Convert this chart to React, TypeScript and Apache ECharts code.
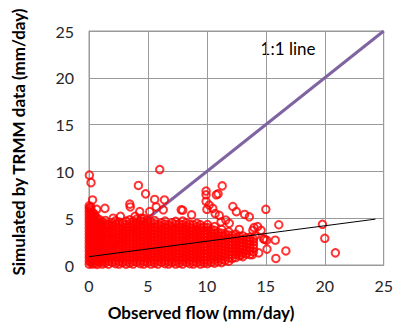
import React, { useEffect, useRef } from "react";
import * as echarts from "echarts";

// Dense core of the scatter: observed-flow columns and the simulated values in each
const coreObs = [0.02, 0.15, 0.3, 0.48, 0.68, 0.9, 1.12, 1.38, 1.65, 1.95, 2.25, 2.55, 2.85, 3.15, 3.45, 3.75, 4.05, 4.35, 4.65, 4.95, 5.25, 5.55, 5.85, 6.15, 6.45, 6.75, 7.05, 7.35, 7.65, 7.95, 8.25, 8.55, 8.85, 9.15, 9.45, 9.75, 10.05, 10.35, 10.65, 10.95, 11.25, 11.55, 11.85, 12.15, 12.45, 12.75, 13.05, 13.35, 13.65, 13.95];
const coreSim: number[][] = [
  [0.08, 0.42, 0.8, 1.12, 1.5, 1.86, 2.2, 2.57, 2.93, 3.28, 3.62, 3.97, 4.33, 4.68, 5.02, 5.38, 5.72, 6.05, 6.32],
  [0.24, 0.6, 0.97, 1.31, 1.66, 2.02, 2.38, 2.71, 3.07, 3.43, 3.78, 4.12, 4.47, 4.83, 5.18, 5.52, 5.88, 6.2],
  [0.1, 0.44, 0.76, 1.13, 1.47, 1.8, 2.17, 2.52, 2.86, 3.22, 3.55, 3.92, 4.26, 4.61, 4.96, 5.3, 5.62],
  [0.2, 0.57, 0.9, 1.27, 1.61, 1.97, 2.31, 2.66, 3.02, 3.36, 3.71, 4.06, 4.4, 4.77, 5.12, 5.42],
  [0.07, 0.45, 0.82, 1.16, 1.52, 1.84, 2.22, 2.56, 2.91, 3.26, 3.6, 3.96, 4.31, 4.66, 5.0],
  [0.26, 0.61, 0.96, 1.32, 1.67, 2.01, 2.36, 2.72, 3.06, 3.42, 3.76, 4.1, 4.46, 4.82],
  [0.1, 0.47, 0.8, 1.15, 1.52, 1.86, 2.21, 2.55, 2.92, 3.25, 3.61, 3.95, 4.31, 4.62],
  [0.21, 0.55, 0.92, 1.26, 1.6, 1.96, 2.32, 2.66, 3.01, 3.36, 3.7, 4.06, 4.41, 4.76],
  [0.08, 0.44, 0.81, 1.14, 1.51, 1.85, 2.2, 2.56, 2.9, 3.26, 3.6, 3.96, 4.3],
  [0.3, 0.64, 1.01, 1.35, 1.7, 2.06, 2.41, 2.76, 3.1, 3.46, 3.8, 4.16, 4.52],
  [0.14, 0.5, 0.86, 1.2, 1.56, 1.9, 2.26, 2.6, 2.96, 3.3, 3.66, 4.01, 4.36, 4.71],
  [0.1, 0.41, 0.76, 1.11, 1.45, 1.81, 2.16, 2.5, 2.86, 3.21, 3.55, 3.91, 4.26, 4.6],
  [0.25, 0.6, 0.96, 1.3, 1.66, 2.0, 2.36, 2.71, 3.05, 3.41, 3.76, 4.1, 4.46],
  [0.09, 0.45, 0.8, 1.16, 1.5, 1.86, 2.2, 2.56, 2.9, 3.25, 3.61, 3.96, 4.3, 4.7],
  [0.2, 0.56, 0.9, 1.26, 1.6, 1.96, 2.3, 2.66, 3.0, 3.36, 3.71, 4.05, 4.41, 4.82],
  [0.1, 0.46, 0.81, 1.15, 1.5, 1.85, 2.21, 2.55, 2.91, 3.26, 3.6, 3.95, 4.31, 4.66],
  [0.3, 0.66, 1.0, 1.36, 1.71, 2.05, 2.4, 2.76, 3.11, 3.45, 3.8, 4.16, 4.51, 4.9],
  [0.15, 0.5, 0.86, 1.21, 1.55, 1.9, 2.26, 2.61, 2.95, 3.3, 3.65, 4.0, 4.36, 4.72],
  [0.1, 0.4, 0.75, 1.1, 1.46, 1.81, 2.15, 2.5, 2.86, 3.2, 3.56, 3.91, 4.25, 4.61, 4.96],
  [0.25, 0.61, 0.95, 1.3, 1.66, 2.01, 2.35, 2.7, 3.06, 3.41, 3.75, 4.1, 4.46, 4.8],
  [0.1, 0.45, 0.8, 1.16, 1.51, 1.85, 2.2, 2.56, 2.91, 3.25, 3.6, 3.96, 4.3, 4.62],
  [0.2, 0.55, 0.91, 1.26, 1.6, 1.95, 2.31, 2.66, 3.0, 3.35, 3.71, 4.06, 4.41, 4.76],
  [0.1, 0.46, 0.8, 1.15, 1.51, 1.86, 2.2, 2.55, 2.91, 3.26, 3.6, 3.95, 4.3],
  [0.3, 0.65, 1.01, 1.36, 1.7, 2.05, 2.41, 2.76, 3.1, 3.45, 3.81, 4.16, 4.5],
  [0.15, 0.5, 0.86, 1.21, 1.55, 1.91, 2.26, 2.6, 2.95, 3.31, 3.66, 4.0, 4.36, 4.7],
  [0.1, 0.41, 0.76, 1.1, 1.46, 1.81, 2.15, 2.51, 2.86, 3.2, 3.55, 3.91, 4.26],
  [0.25, 0.6, 0.96, 1.31, 1.65, 2.0, 2.36, 2.71, 3.05, 3.4, 3.76, 4.11, 4.5],
  [0.1, 0.45, 0.81, 1.16, 1.5, 1.86, 2.21, 2.55, 2.9, 3.26, 3.61, 3.95, 4.31, 4.66],
  [0.2, 0.56, 0.9, 1.25, 1.61, 1.96, 2.3, 2.65, 3.01, 3.36, 3.7, 4.05, 4.4],
  [0.1, 0.46, 0.8, 1.15, 1.51, 1.86, 2.2, 2.56, 2.9, 3.25, 3.61, 3.96, 4.3, 4.7],
  [0.3, 0.66, 1.0, 1.35, 1.71, 2.06, 2.4, 2.75, 3.11, 3.46, 3.8, 4.15, 4.5],
  [0.15, 0.51, 0.86, 1.2, 1.55, 1.91, 2.25, 2.6, 2.96, 3.3, 3.65, 4.01, 4.35],
  [0.1, 0.4, 0.76, 1.11, 1.45, 1.8, 2.16, 2.51, 2.85, 3.2, 3.56, 3.9, 4.3],
  [0.25, 0.61, 0.95, 1.3, 1.66, 2.0, 2.35, 2.71, 3.06, 3.4, 3.75, 4.11, 4.45],
  [0.1, 0.45, 0.8, 1.16, 1.51, 1.85, 2.2, 2.56, 2.9, 3.25, 3.61, 3.96, 4.3],
  [0.2, 0.55, 0.91, 1.25, 1.6, 1.96, 2.31, 2.65, 3.0, 3.36, 3.7, 4.05],
  [0.15, 0.5, 0.86, 1.2, 1.56, 1.91, 2.25, 2.6, 2.96, 3.3, 3.65, 4.0, 4.32],
  [0.3, 0.65, 1.0, 1.36, 1.7, 2.05, 2.41, 2.75, 3.1, 3.46, 3.8],
  [0.2, 0.56, 0.9, 1.25, 1.61, 1.95, 2.3, 2.66, 3.0, 3.35, 3.71, 4.1],
  [0.35, 0.7, 1.06, 1.4, 1.75, 2.11, 2.45, 2.8, 3.16, 3.5],
  [0.25, 0.6, 0.96, 1.3, 1.65, 2.01, 2.35, 2.7, 3.06, 3.4, 3.8],
  [0.5, 0.86, 1.2, 1.55, 1.91, 2.25, 2.6, 2.96, 3.3],
  [0.4, 0.76, 1.1, 1.45, 1.81, 2.15, 2.5, 2.86, 3.2, 3.55],
  [0.7, 1.06, 1.4, 1.75, 2.11, 2.45, 2.8, 3.15],
  [0.8, 1.15, 1.51, 1.86, 2.2, 2.56, 2.9, 3.3],
  [1.0, 1.36, 1.71, 2.05, 2.4, 2.76, 3.05],
  [0.9, 1.3, 1.65, 2.01, 2.36, 2.7, 3.1],
  [1.2, 1.56, 1.9, 2.25, 2.61, 2.9],
  [1.1, 1.5, 1.86, 2.2, 2.55, 2.95],
  [1.4, 1.8, 2.15, 2.5, 2.8],
];

// Scattered points outside the dense core: [observed, simulated]
const scatteredPoints: [number, number][] = [
  [0.03, 9.6], [0.17, 8.8], [0.3, 6.95], [0.65, 5.95], [1.35, 6.05], [1.55, 4.35], [2.05, 5.0],
  [2.67, 5.2], [3.46, 6.5], [3.5, 6.2], [3.9, 5.2], [4.3, 5.7], [4.4, 5.0], [4.19, 8.5],
  [4.8, 7.6], [5.15, 5.7], [5.57, 7.0], [5.7, 6.2], [6.0, 10.2], [6.4, 6.95], [6.3, 5.9],
  [7.82, 5.9], [7.95, 5.85], [8.7, 5.35], [9.93, 7.9], [9.93, 7.5], [9.93, 6.8], [10.2, 6.4],
  [10.5, 6.05], [10.0, 5.95], [10.7, 5.5], [10.8, 7.5], [10.95, 7.6], [11.3, 8.45], [11.05, 5.3],
  [11.2, 4.6], [11.6, 4.8], [11.9, 4.45], [12.2, 6.25], [12.5, 5.7], [13.2, 5.4], [13.6, 5.15],
  [12.75, 3.8], [13.9, 3.7], [14.0, 4.0], [14.3, 4.1], [14.6, 3.7], [14.1, 3.1], [14.8, 2.8],
  [14.9, 2.75], [15.06, 2.65], [15.8, 2.65], [12.9, 1.07], [13.85, 1.1], [14.4, 1.3], [15.1, 1.7],
  [15.0, 5.95], [16.1, 4.3], [16.7, 1.5], [15.85, 0.7], [19.8, 4.35], [20.0, 2.85], [20.9, 1.3],
];

// Reference lines
const oneToOneLine: [number, number][] = [[0, 0], [25, 25]];
const trendLine: [number, number][] = [[0, 0.89], [24.3, 4.9]];

const axisTicks = [0, 5, 10, 15, 20, 25];

export default function App() {
  const ref = useRef<HTMLDivElement>(null);

  useEffect(() => {
    if (!ref.current) return;
    const chart = echarts.init(ref.current, null, { renderer: "svg" });

    const points: [number, number][] = [];
    coreObs.forEach((x, i) => coreSim[i].forEach((y) => points.push([x, y])));
    scatteredPoints.forEach((p) => points.push(p));

    const font = "Lato, 'Liberation Sans', sans-serif";
    const gridColor = "#9a9a9a";

    chart.setOption({
      animation: false,
      backgroundColor: "#ffffff",
      grid: {
        left: 89,
        right: 11,
        top: 31,
        bottom: 57,
        show: true,
        borderColor: gridColor,
        borderWidth: 1,
      },
      xAxis: {
        type: "value",
        min: axisTicks[0],
        max: axisTicks[axisTicks.length - 1],
        interval: 5,
        axisLine: { show: true, lineStyle: { color: gridColor } },
        axisTick: { show: false },
        splitLine: { show: true, lineStyle: { color: gridColor, width: 1 } },
        axisLabel: { fontFamily: font, fontSize: 16, color: "#262626", margin: 12 },
      },
      yAxis: {
        type: "value",
        min: axisTicks[0],
        max: axisTicks[axisTicks.length - 1],
        interval: 5,
        axisLine: { show: true, lineStyle: { color: gridColor } },
        axisTick: { show: false },
        splitLine: { show: true, lineStyle: { color: gridColor, width: 1 } },
        axisLabel: { fontFamily: font, fontSize: 16, color: "#262626", margin: 15 },
      },
      series: [
        {
          type: "line",
          data: oneToOneLine,
          symbol: "none",
          z: 1,
          lineStyle: { color: "#8064A2", width: 3 },
        },
        {
          type: "scatter",
          data: points,
          symbol: "circle",
          symbolSize: 7.5,
          z: 2,
          itemStyle: { color: "rgba(0,0,0,0)", borderColor: "#ff0000", borderWidth: 2 },
        },
        {
          type: "line",
          data: trendLine,
          symbol: "none",
          z: 3,
          lineStyle: { color: "#000000", width: 1 },
        },
      ],
      graphic: [
        {
          type: "text",
          x: 288,
          y: 48,
          style: {
            text: "1:1 line",
            fontFamily: font,
            fontSize: 17,
            fill: "#000000",
            textAlign: "center",
            textVerticalAlign: "middle",
          },
        },
        {
          type: "text",
          x: 201,
          y: 312,
          style: {
            text: "Observed flow (mm/day)",
            fontFamily: font,
            fontSize: 17,
            fontWeight: "bold",
            fill: "#000000",
            textAlign: "center",
            textVerticalAlign: "middle",
          },
        },
        {
          type: "text",
          x: 18,
          y: 142,
          rotation: Math.PI / 2,
          style: {
            text: "Simulated by TRMM data (mm/day)",
            fontFamily: font,
            fontSize: 17,
            fontWeight: "bold",
            fill: "#000000",
            textAlign: "center",
            textVerticalAlign: "middle",
          },
        },
      ],
    });

    return () => chart.dispose();
  }, []);

  return (
    <div
      ref={ref}
      style={{ position: "fixed", left: 0, top: 0, width: 396, height: 322 }}
    />
  );
}
